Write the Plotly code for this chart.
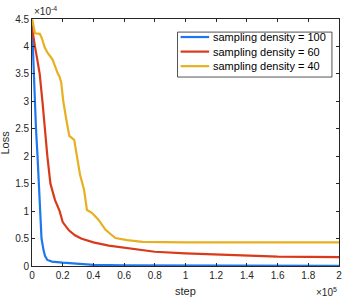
import plotly.graph_objects as go

# data: x in units of 1e5 steps, y in units of 1e-4
x_100 = [0.0, 0.005, 0.015, 0.026, 0.036, 0.046, 0.055, 0.062, 0.075, 0.085, 0.1, 0.13, 0.2, 0.3, 0.4, 0.6, 1.0, 1.5, 2.0]
y_100 = [4.4, 4.0, 3.2, 2.5, 2.0, 1.5, 1.0, 0.5, 0.29, 0.18, 0.11, 0.08, 0.06, 0.035, 0.02, 0.013, 0.01, 0.007, 0.005]

x_60 = [0.0, 0.01, 0.019, 0.035, 0.05, 0.068, 0.083, 0.1, 0.12, 0.15, 0.18, 0.2, 0.24, 0.28, 0.32, 0.4, 0.5, 0.6, 0.8, 1.0, 1.2, 1.4, 1.6, 1.8, 2.0]
y_60 = [4.35, 4.2, 4.0, 3.75, 3.5, 3.0, 2.5, 2.0, 1.5, 1.2, 1.0, 0.8, 0.65, 0.56, 0.5, 0.43, 0.37, 0.33, 0.26, 0.23, 0.21, 0.19, 0.17, 0.165, 0.16]

x_40 = [0.0, 0.005, 0.019, 0.051, 0.064, 0.083, 0.102, 0.134, 0.166, 0.179, 0.19, 0.204, 0.224, 0.243, 0.275, 0.294, 0.313, 0.339, 0.358, 0.39, 0.434, 0.479, 0.543, 0.62, 0.72, 1.0, 1.5, 2.0]
y_40 = [4.5, 4.45, 4.24, 4.23, 4.15, 3.98, 3.88, 3.76, 3.52, 3.45, 3.35, 3.0, 2.66, 2.37, 2.3, 2.0, 1.66, 1.39, 1.02, 0.97, 0.84, 0.66, 0.51, 0.47, 0.44, 0.43, 0.43, 0.43]

names = ["sampling density = 100", "sampling density = 60", "sampling density = 40"]
colors = ["#1f77f0", "#d93a1a", "#e8b020"]
xs_all = [x_100, x_60, x_40]
ys_all = [y_100, y_60, y_40]

x_ticks = [0, 0.2, 0.4, 0.6, 0.8, 1, 1.2, 1.4, 1.6, 1.8, 2]
x_tick_labels = ["0", "0.2", "0.4", "0.6", "0.8", "1", "1.2", "1.4", "1.6", "1.8", "2"]
y_ticks = [0, 0.5, 1, 1.5, 2, 2.5, 3, 3.5, 4, 4.5]
y_tick_labels = ["0", "0.5", "1", "1.5", "2", "2.5", "3", "3.5", "4", "4.5"]

fig = go.Figure()
for name, xs, ys, c in zip(names, xs_all, ys_all, colors):
    fig.add_trace(go.Scatter(x=xs, y=ys, mode="lines", name=name,
                             line=dict(color=c, width=2.2), showlegend=False))

axis_col = "#262626"

# compact MATLAB-style legend box (paper coordinates)
shapes = [dict(type="rect", xref="paper", yref="paper", x0=0.474, x1=0.977,
               y0=0.765, y1=0.947, line=dict(color=axis_col, width=0.8),
               fillcolor="white", layer="above")]
annotations = []
row_y = [0.927, 0.868, 0.809]
for name, c, ry in zip(names, colors, row_y):
    shapes.append(dict(type="line", xref="paper", yref="paper", x0=0.484, x1=0.577,
                       y0=ry, y1=ry, line=dict(color=c, width=2.2), layer="above"))
    annotations.append(dict(text=name, x=0.584, y=ry, xref="paper", yref="paper",
                            showarrow=False, xanchor="left", yanchor="middle",
                            font=dict(size=11, color="black")))

annotations += [
    dict(text="step", x=0.5, y=0, xref="paper", yref="paper", yshift=-17,
         showarrow=False, xanchor="center", yanchor="top", font=dict(size=11)),
    dict(text="Loss", x=0, y=0.5, xref="paper", yref="paper", xshift=-20,
         showarrow=False, xanchor="right", yanchor="middle", textangle=-90,
         font=dict(size=11)),
    dict(text="×10<sup>-4</sup>", x=0, y=1, xref="paper", yref="paper",
         showarrow=False, xanchor="left", yanchor="bottom", font=dict(size=10)),
    dict(text="×10<sup>5</sup>", x=1, y=0, xref="paper", yref="paper", yshift=-18,
         showarrow=False, xanchor="right", yanchor="top", font=dict(size=10)),
]

fig.update_layout(
    width=353, height=300,
    margin=dict(l=32, r=11, t=19, b=34),
    paper_bgcolor="white", plot_bgcolor="white",
    font=dict(family="Liberation Sans, Arial, sans-serif", size=10, color=axis_col),
    showlegend=False,
    xaxis=dict(range=[0, 2], tickvals=x_ticks, ticktext=x_tick_labels,
               showgrid=False, zeroline=False, showline=True, linecolor=axis_col,
               linewidth=0.8, mirror="ticks", ticks="inside", ticklen=3,
               tickcolor=axis_col, tickwidth=0.8),
    yaxis=dict(range=[0, 4.5], tickvals=y_ticks, ticktext=y_tick_labels,
               showgrid=False, zeroline=False, showline=True, linecolor=axis_col,
               linewidth=0.8, mirror="ticks", ticks="inside", ticklen=3,
               tickcolor=axis_col, tickwidth=0.8),
    shapes=shapes,
    annotations=annotations,
)

fig.write_html("out.html", config={"displayModeBar": False},
               post_script="document.body.style.margin='0px';document.body.style.padding='0px';")
